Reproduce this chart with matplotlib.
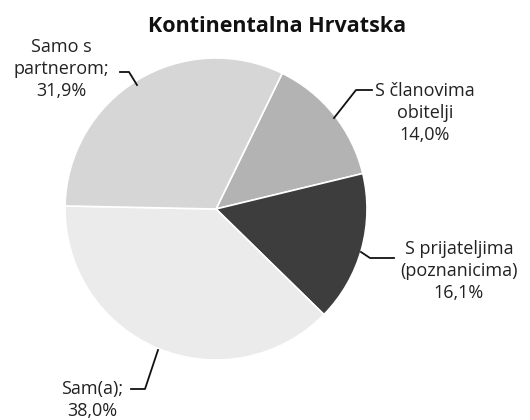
import matplotlib.pyplot as plt

labels = ['S članovima\nobitelji\n14,0%', 'S prijateljima\n(poznanicima)\n16,1%',
          'Sam(a);\n38,0%', 'Samo s\npartnerom;\n31,9%']
values = [14.0, 16.1, 38.0, 31.9]
colors = ['#b3b3b3', '#3d3d3d', '#ebebeb', '#d6d6d6']

plt.rcParams['font.family'] = ['Open Sans', 'DejaVu Sans']

fig = plt.figure(figsize=(5.3, 4.2), dpi=100)
ax = fig.add_axes([0, 0, 1, 1])

# y axis is flipped, so counterclock=True draws clockwise on screen
ax.pie(values, colors=colors, startangle=-64, counterclock=True,
       center=(216, 209), radius=151, frame=True,
       wedgeprops=dict(edgecolor='white', linewidth=1.2))
ax.set_xlim(0, 530)
ax.set_ylim(420, 0)
ax.axis('off')

ax.text(277, 27, 'Kontinentalna Hrvatska', ha='center', va='center',
        fontsize=15.5, fontweight='bold', color='#111111')

txt = dict(ha='center', va='center', fontsize=13, color='#222222', linespacing=1.3)
ax.text(61, 69, labels[3], **txt)
ax.text(425, 113, labels[0], **txt)
ax.text(459, 271, labels[1], **txt)
ax.text(92, 400, labels[2], **txt)

ln = dict(color='#111111', linewidth=1.3)
ax.plot([120, 129, 137], [72, 72, 85], **ln)
ax.plot([372, 356, 334], [90, 90, 118], **ln)
ax.plot([394, 370, 361], [258, 258, 252], **ln)
ax.plot([131, 145, 158], [389, 389, 350], **ln)

fig.savefig('out.png', dpi=100)
